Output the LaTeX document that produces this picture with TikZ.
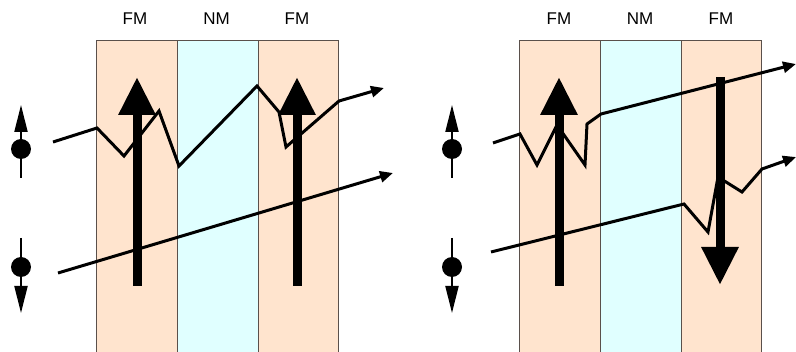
\documentclass[tikz,border=0pt]{standalone}
\usepackage{fontspec}
\setmainfont{Liberation Sans}
\usetikzlibrary{arrows.meta}
\definecolor{fmfill}{RGB}{255,228,206}
\definecolor{nmfill}{RGB}{224,255,255}
\definecolor{edge}{RGB}{90,80,75}
\tikzset{
  fm/.style={fill=fmfill,draw=edge,line width=1pt},
  nm/.style={fill=nmfill,draw=edge,line width=1pt},
  lbl/.style={font=\fontsize{17}{17}\selectfont,anchor=center,inner sep=0pt},
  electron/.style={line width=3pt,line join=miter,
    -{Triangle[length=13pt,width=11pt]}},
  moment/.style={line width=9pt,
    -{Triangle[length=38pt,width=35pt]}},
  spinup/.style={line width=2pt,-{Triangle[length=27pt,width=13pt]}},
}
\begin{document}
\begin{tikzpicture}[x=1pt,y=-1pt]
\useasboundingbox (0,0) rectangle (796,352);
\begin{scope}
\clip (0,0) rectangle (796,352);
% layer stacks
\foreach \x in {96,519}{
  \path[fm] (\x,41) rectangle ++(81,320);
  \path[nm] (\x+81,41) rectangle ++(81,320);
  \path[fm] (\x+162,41) rectangle ++(80,320);
}
\end{scope}
% layer labels
\node[lbl] (l1) at (135,18.3) {FM};
\node[lbl] (l2) at (216.5,18.3) {NM};
\node[lbl] (l3) at (297,18.3) {FM};
\node[lbl] (r1) at (559,18.3) {FM};
\node[lbl] (r2) at (640,18.3) {NM};
\node[lbl] (r3) at (721,18.3) {FM};

% spin symbols
\foreach \x in {21,452}{
  \draw[spinup] (\x,178) -- (\x,105);
  \fill (\x,149) circle (10pt);
  \draw[spinup] (\x,238) -- (\x,313);
  \fill (\x,267) circle (10pt);
}

% parallel alignment: electron trajectories
\draw[electron] (53,142) -- (97,128) -- (124,156) -- (159,111) -- (179,166)
  -- (257,86) -- (279,112) -- (286,147) -- (339,101) -- (384,88);
\draw[electron] (58,273) -- (393,173);
% antiparallel alignment: electron trajectories
\draw[electron] (493,143) -- (520,134) -- (537,165) -- (557,125) -- (585,165)
  -- (587,124) -- (601,114) -- (796,64);
\draw[electron] (491,252) -- (684,204) -- (708,232) -- (718,177) -- (742,192)
  -- (762,169) -- (796,157);

% magnetisation of the ferromagnetic layers
\draw[moment] (137,286) -- (137,77);
\draw[moment] (297,286) -- (297,77);
\draw[moment] (559,286) -- (559,77);
\draw[moment] (720,77) -- (720,285);
\end{tikzpicture}
\end{document}
